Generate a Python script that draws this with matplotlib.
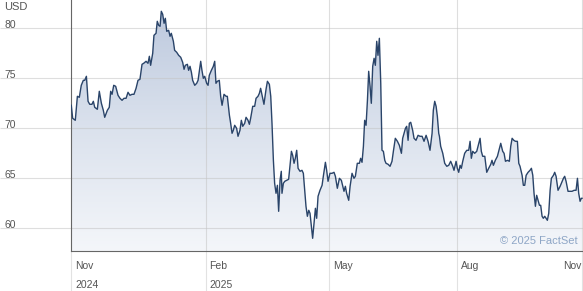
import numpy as np
import pandas as pd
import matplotlib
matplotlib.use("Agg")
import matplotlib.pyplot as plt
import matplotlib.dates as mdates
from matplotlib.colors import LinearSegmentedColormap
from matplotlib.transforms import offset_copy

plt.rcParams["font.family"] = ["Liberation Sans", "DejaVu Sans"]

# price readings, x given as days after the first day of the chart
start = pd.Timestamp("2024-10-27")
day_offset = [
    0.2, 1.2, 3.1, 4.6, 6.0, 7.4, 8.9, 9.9, 11.1, 12.3, 13.5, 15.1, 16.1, 17.1, 19.0, 20.4, 21.9, 23.3, 24.3, 26.2,
    27.6, 28.6, 29.6, 30.8, 32.2, 33.9, 35.3, 36.8, 38.2, 39.7, 41.1, 42.5, 44.0, 45.4, 46.9, 48.3, 49.7, 51.2, 52.4,
    54.1, 55.5, 56.5, 57.4, 58.9, 59.8, 61.3, 62.2, 63.2, 64.2, 65.1, 66.1, 67.1, 68.0, 69.0, 70.4, 71.4, 72.3, 73.8, 74.7,
    76.2, 77.6, 79.1, 80.5, 81.5, 82.4, 83.9, 84.8, 85.8, 86.8, 87.7, 89.2, 90.6, 91.6, 92.5, 93.5, 94.4, 95.4, 96.4, 97.8,
    98.8, 99.7, 101.2, 102.6, 103.6, 104.5, 105.5,
    106.9, 107.9, 108.9, 110.3, 111.8, 112.7, 114.2, 115.1, 116.1, 117.0, 118.0, 119.4, 120.4, 121.8, 122.8, 123.8, 125.2,
    126.2, 127.6, 128.6, 129.5, 131.0, 132.4, 133.4, 134.8, 135.8, 136.7, 138.2, 139.1, 140.6, 141.6, 143.0, 144.0, 144.9,
    145.9, 146.8, 147.8, 148.8, 149.7, 150.7, 151.6, 152.1, 153.1, 154.1, 155.5, 156.9, 157.9, 158.9,
    159.8, 160.8, 161.7, 162.7, 163.7, 165.1, 166.5, 167.5, 168.5, 169.4, 170.4, 171.4, 172.3, 173.3, 174.2, 175.2, 176.2,
    177.1, 178.1, 179.5, 181.0, 181.9, 183.4, 184.3, 185.3, 186.7, 188.2, 189.6, 190.6, 192.0, 193.5, 194.9, 195.9, 196.8,
    197.8, 198.7, 200.2, 201.2, 202.6, 204.0, 205.0, 206.4, 207.9, 208.8, 209.8, 210.8, 211.7,
    212.7, 213.7, 214.6, 215.6, 216.5, 217.5, 218.5, 219.4, 220.4, 221.3, 222.3, 223.3, 224.2, 225.2, 226.2, 227.1, 228.6,
    230.0, 231.4, 232.4, 233.8, 235.3, 236.7, 238.2, 239.1, 240.1, 241.1, 242.0, 243.0, 243.9, 244.9, 246.3, 247.3, 248.7,
    250.2, 251.6, 253.1, 254.5, 256.0, 257.4, 258.8, 260.3, 261.2, 262.2, 263.2, 264.1, 265.1,
    265.6, 266.5, 268.0, 269.4, 270.9, 272.3, 273.7, 275.2, 276.1, 277.6, 278.5, 279.5, 280.5, 281.4, 282.4, 283.8, 285.3,
    286.7, 287.7, 288.6, 289.6, 291.0, 292.5, 293.4, 294.9, 295.8, 296.8, 298.3, 299.7, 301.1, 302.6, 303.5, 304.5, 305.9,
    307.4, 308.3, 309.8, 311.2, 312.2, 313.2, 314.6, 316.0, 317.0, 318.0, 319.2,
    320.4, 321.8, 322.8, 323.7, 325.2, 326.1, 327.1, 328.1, 329.5, 330.9, 331.9, 332.9, 333.8, 334.8, 335.7, 336.7, 337.7,
    338.6, 339.6, 340.5, 341.5, 342.5, 343.4, 344.4, 345.4, 346.3, 347.8, 348.7, 349.7, 351.1, 352.6, 353.5, 355.0, 355.9,
    356.9, 358.3, 359.8, 361.2, 362.7, 364.1, 365.1, 366.0, 367.0, 367.9, 368.4,
]
price = [
    72.3, 71.0, 70.8, 73.2, 73.1, 74.3, 74.8, 74.8, 75.2, 72.7, 72.4, 72.4, 72.7, 72.1, 71.9, 73.7, 72.5, 71.8, 71.1, 71.8,
    72.1, 73.7, 73.4, 74.3, 74.2, 73.3, 73.0, 72.8, 73.0, 73.0, 73.6, 73.3, 73.4, 73.4, 74.0, 74.8, 74.9, 76.4, 76.5,
    76.7, 76.5, 77.2, 76.3, 77.5, 79.3, 79.5, 80.7, 80.3, 80.2, 81.7, 81.4, 80.5, 81.0, 79.7, 79.8, 79.2, 79.5, 78.7, 77.8,
    77.6, 77.3, 77.1, 76.6, 75.9, 76.3, 76.4, 75.8, 76.2, 75.6, 74.8, 74.3, 74.5, 74.8, 75.7, 76.7, 75.8, 75.0, 75.2, 74.5,
    74.3, 75.3, 75.8, 76.2, 76.7, 74.5, 74.7,
    74.8, 73.2, 72.3, 73.4, 73.2, 73.2, 71.3, 70.5, 69.5, 69.8, 70.3, 70.0, 69.2, 69.8, 70.8, 70.2, 70.5,
    71.1, 70.8, 70.4, 71.0, 72.2, 72.2, 73.0, 73.2, 73.5, 74.0, 73.0, 72.4, 73.9, 74.7, 74.4, 73.2, 70.5,
    66.8, 64.5, 63.5, 64.3, 61.7, 64.8, 65.7, 63.5, 64.5, 64.7, 64.8, 64.9, 66.3, 67.7,
    67.3, 66.5, 67.0, 67.8, 66.0, 65.7, 65.8, 65.5, 63.8, 62.2, 61.2, 61.8, 61.5, 60.2, 59.0, 60.5, 62.0,
    61.0, 63.2, 63.8, 64.3, 65.2, 66.6, 65.8, 64.7, 65.5, 65.5, 65.6, 65.2, 64.0, 65.0, 64.8, 64.2, 63.7,
    64.2, 63.5, 62.8, 64.2, 65.5, 65.0, 65.2, 66.5, 66.5, 67.0, 66.6, 68.2, 70.8,
    70.3, 72.8, 75.7, 74.2, 72.5, 76.2, 77.0, 76.3, 78.7, 77.3, 79.0, 74.5, 67.8, 67.7, 66.8, 66.5, 66.4,
    66.2, 66.7, 67.7, 69.0, 68.7, 68.3, 67.5, 69.0, 69.5, 70.0, 70.2, 68.8, 70.5, 70.6, 69.8, 69.0, 68.8,
    69.3, 69.2, 69.2, 68.7, 69.3, 68.7, 67.8, 69.5, 71.8, 72.7, 72.2, 71.2, 69.5,
    69.2, 68.2, 67.5, 66.5, 66.2, 66.3, 66.7, 66.2, 65.8, 66.7, 66.0, 65.6, 66.3, 66.0, 66.7, 67.5, 67.8,
    67.8, 68.7, 67.0, 67.7, 67.5, 67.7, 68.2, 69.0, 67.7, 67.2, 67.2, 65.6, 66.0, 66.4, 66.8, 66.3, 66.8,
    67.2, 67.7, 68.5, 67.7, 67.5, 66.7, 66.8, 66.7, 68.2, 69.0, 68.8,
    68.7, 68.7, 66.5, 66.2, 65.3, 64.3, 64.3, 65.3, 65.6, 65.8, 66.0, 65.3, 63.5, 62.2, 63.3, 62.8, 62.3,
    62.3, 61.2, 61.0, 61.2, 61.0, 60.8, 61.5, 63.8, 65.0, 65.3, 65.6, 65.2, 63.8, 64.2, 64.5, 65.0, 65.2,
    64.7, 63.7, 63.7, 63.7, 63.8, 63.8, 65.0, 63.5, 62.7, 63.0, 63.0,
]

y_ticks = [60, 65, 70, 75, 80]
tick_dates = ["2024-10-27 00:00", "2025-02-01 00:00", "2025-05-01 00:00", "2025-08-01 00:00", "2025-10-30 10:00"]
month_labels = ["Nov", "Feb", "May", "Aug", "Nov"]
year_labels = ["2024", "2025", "", "", ""]

dates = start + pd.to_timedelta(day_offset, unit="D")
ticks = pd.to_datetime(tick_dates, format="%Y-%m-%d %H:%M")
x_end = start + pd.Timedelta(days=369.1)
y_lo, y_hi = 57.73, 82.83

fig = plt.figure(figsize=(5.83, 2.91), dpi=100)
ax = fig.add_axes([71 / 583, 40 / 291, 512 / 583, 251 / 291])

ax.plot(dates, price, color="#2a4469", lw=1.0, zorder=4)

# gradient fill under the line
poly = ax.fill_between(dates, price, y_lo, facecolor="none", edgecolor="none")
cmap = LinearSegmentedColormap.from_list("fill", ["#f4f6fa", "#dbe2ed", "#bdc9de"])
grad = np.linspace(0, 1, 256).reshape(-1, 1)
x0, x1 = mdates.date2num(start), mdates.date2num(x_end)
img = ax.imshow(grad, extent=[x0, x1, y_lo, 82.0], origin="lower", aspect="auto",
                cmap=cmap, zorder=1, interpolation="bilinear")
img.set_clip_path(poly.get_paths()[0], transform=ax.transData)

ax.set_xlim(start, x_end)
ax.set_ylim(y_lo, y_hi)

# grid + long ticks that run out to the figure edge
ax.set_yticks(y_ticks)
ax.set_xticks(ticks)
ax.grid(True, color="#c4c4c4", alpha=0.55, lw=0.8, zorder=2)
ax.tick_params(axis="y", length=51, width=0.8, color="#dedede", pad=-2.9,
               labelsize=7.5, labelcolor="#555555")
ax.tick_params(axis="x", length=29, width=0.8, color="#e2e2e2", labelbottom=False)
for lbl in ax.get_yticklabels():
    lbl.set_ha("left")
    lbl.set_va("baseline")

for s in ["top", "right"]:
    ax.spines[s].set_visible(False)
for s in ["left", "bottom"]:
    ax.spines[s].set_color("#666666")
    ax.spines[s].set_linewidth(0.8)

base = ax.get_xaxis_transform()
for i, d in enumerate(ticks):
    last = i == len(ticks) - 1
    dx = -1 if last else 4
    ha = "right" if last else "left"
    ax.text(d, 0, month_labels[i], ha=ha, va="top", fontsize=7.5, color="#555555",
            transform=offset_copy(base, fig=fig, x=dx, y=-10, units="dots"))
    if year_labels[i]:
        ax.text(d, 0, year_labels[i], ha=ha, va="top", fontsize=7.5, color="#555555",
                transform=offset_copy(base, fig=fig, x=dx, y=-29, units="dots"))

fig.text(4 / 583, 1 - 2 / 291, "USD", ha="left", va="top", fontsize=8, color="#555555")
fig.text(577.5 / 583, 47 / 291, "\u00a9 2025 FactSet", ha="right", va="baseline",
         fontsize=8, color="#8ea6c6")

fig.savefig("out.png", dpi=100)
